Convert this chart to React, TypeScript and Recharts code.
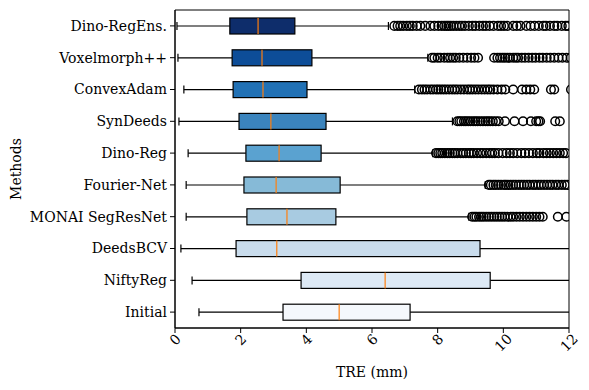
import React from 'react';
import {
  ComposedChart,
  Bar,
  Scatter,
  XAxis,
  YAxis,
  ReferenceArea,
} from 'recharts';

// methods, top to bottom
const methods = [
  'Dino-RegEns.',
  'Voxelmorph++',
  'ConvexAdam',
  'SynDeeds',
  'Dino-Reg',
  'Fourier-Net',
  'MONAI SegResNet',
  'DeedsBCV',
  'NiftyReg',
  'Initial',
];

// box statistics (TRE in mm)
const whiskerLow = [0.06, 0.09, 0.27, 0.12, 0.4, 0.34, 0.34, 0.18, 0.52, 0.73];
const q1 = [1.67, 1.74, 1.77, 1.95, 2.16, 2.1, 2.19, 1.86, 3.84, 3.29];
const median = [2.53, 2.65, 2.68, 2.92, 3.17, 3.08, 3.41, 3.1, 6.4, 5.0];
const q3 = [3.65, 4.17, 4.02, 4.6, 4.45, 5.03, 4.9, 9.29, 9.6, 7.16];
const whiskerHigh = [6.5, 7.7, 7.3, 8.45, 7.85, 9.45, 8.95, 14.6, 15.8, 13.2];

const outliersDinoRegEns = [
  6.68, 6.78, 6.86, 6.95, 7.06, 7.15, 7.24, 7.36, 7.47, 7.62, 7.78, 7.9, 8.02,
  8.12, 8.2, 8.27, 8.33, 8.4, 8.48, 8.57, 8.66, 8.74, 8.83, 8.95, 9.06, 9.15,
  9.27, 9.38, 9.47, 9.58, 9.7, 9.84, 9.93, 10.02, 10.12, 10.3, 10.41, 10.52,
  10.7, 10.83, 10.95, 11.08, 11.22, 11.3, 11.42, 11.55, 11.64, 11.78, 11.9, 11.98,
];
const outliersVoxelmorph = [
  7.83, 7.9, 8.0, 8.08, 8.2, 8.3, 8.38, 8.47, 8.55, 8.66, 8.78, 8.9, 9.02, 9.12,
  9.23, 9.72, 9.82, 9.9, 9.98, 10.05, 10.13, 10.2, 10.3, 10.38, 10.45, 10.56,
  10.66, 10.77, 10.88, 10.98, 11.1, 11.2, 11.32, 11.43, 11.55, 11.68, 11.8, 11.93,
  12.05,
];
const outliersConvexAdam = [
  7.43, 7.52, 7.6, 7.68, 7.78, 7.86, 7.95, 8.02, 8.1, 8.18, 8.26, 8.35, 8.44,
  8.52, 8.6, 8.7, 8.8, 8.9, 8.98, 9.06, 9.15, 9.24, 9.34, 9.43, 9.52, 9.6, 9.7,
  9.82, 9.95, 10.06, 10.3, 10.57, 10.7, 10.82, 10.94, 11.45, 11.55, 12.06,
];
const outliersSynDeeds = [
  8.6, 8.66, 8.72, 8.8, 8.86, 8.93, 9.0, 9.08, 9.15, 9.22, 9.3, 9.38, 9.46,
  9.53, 9.6, 9.68, 9.77, 9.86, 10.05, 10.34, 10.6, 10.84, 11.0, 11.07, 11.12,
  11.58, 11.72,
];
const outliersDinoReg = [
  7.95, 8.02, 8.08, 8.14, 8.22, 8.3, 8.37, 8.45, 8.52, 8.6, 8.7, 8.78, 8.86,
  8.95, 9.02, 9.1, 9.2, 9.3, 9.38, 9.48, 9.58, 9.66, 9.74, 9.85, 9.98, 10.1,
  10.2, 10.3, 10.42, 10.55, 10.66, 10.78, 10.9, 11.02, 11.1, 11.22, 11.32,
  11.42, 11.52, 11.62, 11.72, 11.82, 11.9,
];
const outliersFourierNet = [
  9.56, 9.62, 9.7, 9.77, 9.85, 9.93, 10.02, 10.08, 10.15, 10.22, 10.3, 10.38,
  10.47, 10.55, 10.63, 10.72, 10.8, 10.9, 10.98, 11.07, 11.15, 11.24, 11.33,
  11.42, 11.5, 11.6, 11.68, 11.78, 11.87, 11.95,
];
const outliersMonai = [
  9.05, 9.12, 9.18, 9.26, 9.33, 9.4, 9.48, 9.56, 9.64, 9.72, 9.8, 9.88, 9.96,
  10.04, 10.13, 10.22, 10.3, 10.4, 10.5, 10.6, 10.7, 10.8, 10.9, 11.0, 11.1,
  11.2, 11.66, 11.92,
];
const outliers = [
  outliersDinoRegEns,
  outliersVoxelmorph,
  outliersConvexAdam,
  outliersSynDeeds,
  outliersDinoReg,
  outliersFourierNet,
  outliersMonai,
  [],
  [],
  [],
];

const xTicks = [0, 2, 4, 6, 8, 10, 12];

const COLORS = [
  '#0e2d6b',
  '#0d4d98',
  '#2171b5',
  '#3b84bd',
  '#5aa2d0',
  '#86bad7',
  '#a8cbe1',
  '#c9dcec',
  '#dde9f5',
  '#f5f8fc',
];

const FONT = "'DejaVu Serif', serif";

const boxData = methods.map((name, i) => ({
  name,
  lo: whiskerLow[i],
  q1: q1[i],
  med: median[i],
  q3: q3[i],
  hi: whiskerHigh[i],
  color: COLORS[i],
}));

const outlierData = methods.flatMap((name, i) =>
  outliers[i].map((v) => ({ name, v }))
);

const BoxShape = (props: any) => {
  const { x, y, width, height, payload } = props;
  const unit = width / (payload.hi - payload.lo);
  const px = (v: number) => x + (v - payload.lo) * unit;
  const cy = y + height / 2;
  const bh = height * 0.5;
  const cap = height * 0.25;
  return (
    <g>
      <line x1={px(payload.lo)} x2={px(payload.q1)} y1={cy} y2={cy} stroke="#000" strokeWidth={1.2} />
      <line x1={px(payload.q3)} x2={px(payload.hi)} y1={cy} y2={cy} stroke="#000" strokeWidth={1.2} />
      <line x1={px(payload.lo)} x2={px(payload.lo)} y1={cy - cap / 2} y2={cy + cap / 2} stroke="#000" strokeWidth={1.2} />
      <line x1={px(payload.hi)} x2={px(payload.hi)} y1={cy - cap / 2} y2={cy + cap / 2} stroke="#000" strokeWidth={1.2} />
      <rect
        x={px(payload.q1)}
        y={cy - bh / 2}
        width={px(payload.q3) - px(payload.q1)}
        height={bh}
        fill={payload.color}
        stroke="#000"
        strokeWidth={1.2}
      />
      <line x1={px(payload.med)} x2={px(payload.med)} y1={cy - bh / 2} y2={cy + bh / 2} stroke="#ff7f0e" strokeWidth={1.2} />
    </g>
  );
};

const XTick = ({ x, y, payload }: any) => {
  const s = String(payload.value);
  const w = s.length * 8.5;
  const cy = y - 2 + (w + 10) / (2 * Math.SQRT2);
  return (
    <g transform={`translate(${x}, ${cy}) rotate(-45)`}>
      <text
        x={0}
        y={0}
        textAnchor="middle"
        dominantBaseline="central"
        fontFamily={FONT}
        fontSize={14}
        fill="#000"
      >
        {s}
      </text>
    </g>
  );
};

export default function App() {
  return (
    <div style={{ position: 'absolute', left: 0, top: 0, width: 589, height: 390, background: '#fff' }}>
      <ComposedChart
        width={589}
        height={390}
        data={boxData}
        layout="vertical"
        barCategoryGap={0}
        margin={{ top: 10, right: 20, bottom: 22, left: 10 }}
      >
        <XAxis
          type="number"
          dataKey="v"
          domain={[0, 12]}
          ticks={xTicks}
          allowDataOverflow
          height={40}
          tick={<XTick />}
          tickSize={5}
          axisLine={{ stroke: '#000' }}
          tickLine={{ stroke: '#000' }}
          label={{
            value: 'TRE (mm)',
            position: 'insideBottom',
            offset: -9,
            fontFamily: FONT,
            fontSize: 14,
            fill: '#000',
          }}
        />
        <YAxis
          type="category"
          dataKey="name"
          allowDuplicatedCategory={false}
          width={165}
          tickSize={5}
          tickMargin={3}
          axisLine={{ stroke: '#000' }}
          tickLine={{ stroke: '#000' }}
          tick={{ fontFamily: FONT, fontSize: 14, fill: '#000' }}
          interval={0}
          label={{
            content: ({ viewBox }: any) => (
              <text
                x={viewBox.x + 6}
                y={viewBox.y + viewBox.height / 2}
                transform={`rotate(-90, ${viewBox.x + 6}, ${viewBox.y + viewBox.height / 2})`}
                textAnchor="middle"
                dominantBaseline="central"
                fontFamily={FONT}
                fontSize={14}
                fill="#000"
              >
                Methods
              </text>
            ),
          }}
        />
        <Bar
          dataKey={(d: any) => [d.lo, d.hi]}
          shape={<BoxShape />}
          isAnimationActive={false}
        />
        <Scatter
          data={outlierData}
          dataKey="v"
          isAnimationActive={false}
          shape={(p: any) => (
            <circle cx={p.cx} cy={p.cy} r={4.3} fill="none" stroke="#000" strokeWidth={1.5} />
          )}
        />
        <ReferenceArea x1={0} x2={12} fill="none" stroke="#000" strokeWidth={1} fillOpacity={0} />
      </ComposedChart>
    </div>
  );
}
